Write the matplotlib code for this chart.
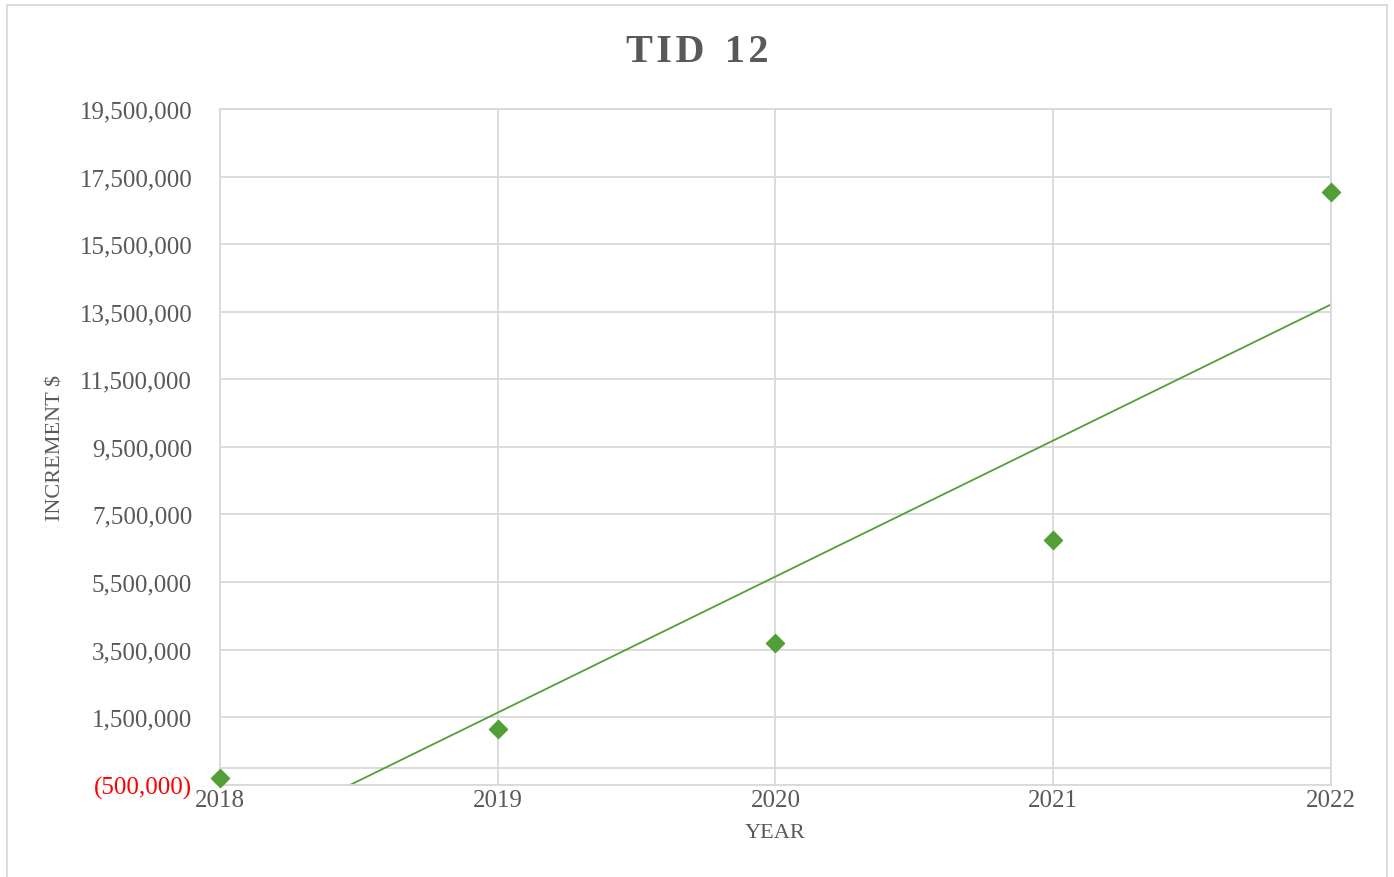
import numpy as np
import matplotlib
matplotlib.use('Agg')
import matplotlib.pyplot as plt
from matplotlib.ticker import FuncFormatter

# Data
years = [2018, 2019, 2020, 2021, 2022]
increment = [-310000, 1145000, 3690000, 6740000, 17030000]
y_ticks = list(range(-500000, 19500001, 2000000))

green = '#539f37'
grey_text = '#595959'
grid_col = '#d9d9d9'

plt.rcParams['font.family'] = ['Liberation Serif', 'DejaVu Serif']

fig = plt.figure(figsize=(13.94, 8.78), dpi=100)
ax = fig.add_axes([0.1578, 0.1052, 0.9548 - 0.1578, 0.8747 - 0.1052])

# Linear trend line, as Excel draws it
coef = np.polyfit(years, increment, 1)
xs = np.array([years[0], years[-1]])
ax.plot(xs, np.polyval(coef, xs), color=green, lw=1.3, zorder=2)

ax.scatter(years, increment, marker='D', s=85, color=green, zorder=3, clip_on=False)

ax.set_xlim(years[0], years[-1])
ax.set_ylim(y_ticks[0], y_ticks[-1])
ax.set_xticks(years)
ax.set_yticks(y_ticks)


def fmt(v, pos):
    if v < 0:
        return '({:,.0f})'.format(-v)
    return '{:,.0f}'.format(v)


ax.yaxis.set_major_formatter(FuncFormatter(fmt))
ax.grid(True, color=grid_col, lw=1.3)
ax.axhline(0, color=grid_col, lw=1.3, zorder=1)
for s in ax.spines.values():
    s.set_color(grid_col)
    s.set_linewidth(1.3)
ax.tick_params(length=0, labelsize=18, colors=grey_text)
ax.tick_params(axis='y', pad=20)
ax.tick_params(axis='x', pad=3)
for lab in ax.get_yticklabels():
    if lab.get_text().startswith('('):
        lab.set_color('red')

ax.set_xlabel('YEAR', fontsize=16, color=grey_text, va='center')
ax.set_ylabel('INCREMENT $', fontsize=16, color=grey_text, va='center')
ax.xaxis.set_label_coords(0.5, (785.6 - 833) / 675.6)
ax.yaxis.set_label_coords((56 - 220) / 1111, 0.5)

fig.text(0.5, 1 - 52 / 878, '\u200a'.join('TID') + '  ' + '\u200a'.join('12'),
         ha='center', va='center', fontsize=29, fontweight='bold', color=grey_text)

# outer chart border
fig.patches.append(plt.Rectangle((0.005, -0.01), 0.99, 1.003, transform=fig.transFigure,
                                 fill=False, edgecolor=grid_col, lw=1.3))

fig.savefig('out.png', dpi=100)
